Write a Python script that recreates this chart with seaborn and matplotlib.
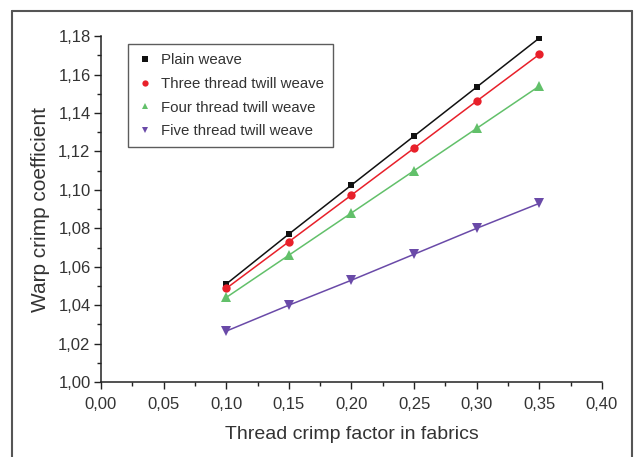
import matplotlib
matplotlib.use("Agg")
import matplotlib.pyplot as plt
import seaborn as sns
import pandas as pd
from matplotlib.ticker import FuncFormatter, MultipleLocator
from matplotlib.lines import Line2D

crimp_factor = [0.10, 0.15, 0.20, 0.25, 0.30, 0.35]
plain = [1.051, 1.077, 1.1025, 1.128, 1.1535, 1.179]
three_twill = [1.0487, 1.073, 1.0973, 1.1217, 1.1462, 1.1705]
four_twill = [1.044, 1.066, 1.088, 1.110, 1.132, 1.154]
five_twill = [1.0265, 1.040, 1.053, 1.0665, 1.080, 1.093]

series_names = ["Plain weave", "Three thread twill weave",
                "Four thread twill weave", "Five thread twill weave"]
series_vals = [plain, three_twill, four_twill, five_twill]

rows = []
for name, vals in zip(series_names, series_vals):
    for x, y in zip(crimp_factor, vals):
        rows.append({"x": x, "y": y, "series": name})
df = pd.DataFrame(rows)

sns.set_theme(style="ticks")
plt.rcParams["font.family"] = ["Liberation Sans", "DejaVu Sans"]
text_col = "#333333"

fig = plt.figure(figsize=(6.35, 4.57), dpi=100)
ax = fig.add_axes([0.159, 0.164, 0.789, 0.757])

palette = {"Plain weave": "#111111", "Three thread twill weave": "#e8202a",
           "Four thread twill weave": "#62c06a", "Five thread twill weave": "#6a4aa8"}
markers = {"Plain weave": "s", "Three thread twill weave": "o",
           "Four thread twill weave": "^", "Five thread twill weave": "v"}
msize = {"s": 5, "o": 6, "^": 7.5, "v": 7.5}

sns.lineplot(data=df, x="x", y="y", hue="series", style="series",
             palette=palette, markers=markers, dashes=False,
             markersize=5, markeredgewidth=0, linewidth=1.1, ax=ax,
             hue_order=series_names, style_order=series_names)
for ln in ax.lines:
    m = ln.get_marker()
    if m in msize:
        ln.set_markersize(msize[m])

ax.set_xlim(0, 0.40)
ax.set_ylim(1.00, 1.18)
ax.xaxis.set_major_locator(MultipleLocator(0.05))
ax.xaxis.set_minor_locator(MultipleLocator(0.025))
ax.yaxis.set_major_locator(MultipleLocator(0.02))
ax.yaxis.set_minor_locator(MultipleLocator(0.01))
ax.xaxis.set_major_formatter(FuncFormatter(lambda v, p: f"{v:.2f}".replace(".", ",")))
ax.yaxis.set_major_formatter(FuncFormatter(lambda v, p: f"{v:.2f}".replace(".", ",")))
ax.tick_params(which="major", length=5, width=1, colors="#222222", labelsize=12,
               labelcolor=text_col, direction="out", pad=2.5)
ax.tick_params(axis="x", which="major", pad=6)
ax.tick_params(which="minor", length=3, width=1, colors="#222222", direction="out")
for s in ["top", "right"]:
    ax.spines[s].set_visible(False)
for s in ["left", "bottom"]:
    ax.spines[s].set_color("#222222")
    ax.spines[s].set_linewidth(1.1)

ax.set_xlabel("Thread crimp factor in fabrics", fontsize=14, color=text_col, labelpad=10)
ax.set_ylabel("Warp crimp coefficient", fontsize=15, color=text_col, labelpad=6)

leg = ax.legend(loc="upper left", bbox_to_anchor=(0.054, 0.977), borderaxespad=0,
                frameon=True, fancybox=False, edgecolor="#333333", fontsize=10.8,
                labelcolor=text_col, handlelength=1.0, handletextpad=0.6,
                borderpad=0.6, labelspacing=0.65)
leg.get_frame().set_linewidth(1.0)
for h in leg.legend_handles:
    h.set_linestyle("None")
    h.set_markersize(4.5)

frame_col = "#555555"
fig.add_artist(Line2D([12/635, 12/635], [0, 1 - 11/457], color=frame_col, lw=1.5))
fig.add_artist(Line2D([12/635, 632/635], [1 - 11/457, 1 - 11/457], color=frame_col, lw=1.5))
fig.add_artist(Line2D([632/635, 632/635], [0, 1 - 11/457], color=frame_col, lw=1.5))

fig.savefig("out.png", dpi=100)
